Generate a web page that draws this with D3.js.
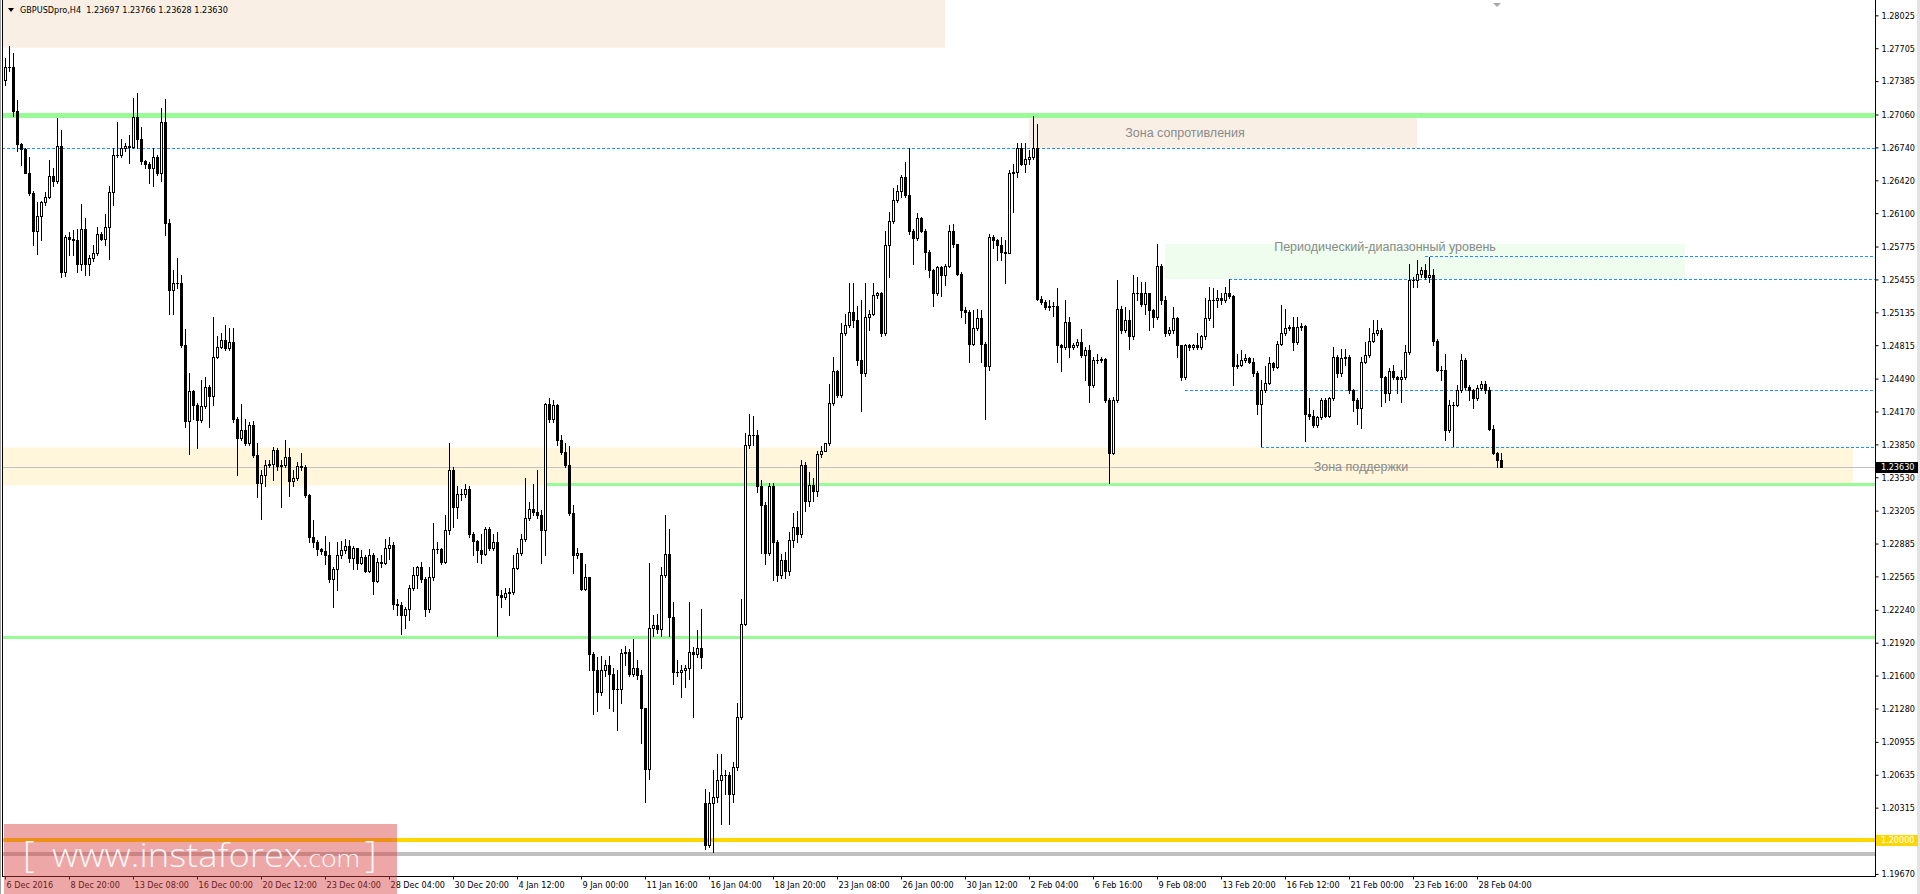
<!DOCTYPE html>
<html>
<head>
<meta charset="utf-8">
<script src="https://cdn.jsdelivr.net/npm/d3@7"></script>
<style>
body{margin:0;background:#fff;overflow:hidden}
svg{display:block}
text{font-family:"DejaVu Sans Condensed","Liberation Sans",sans-serif}
</style>
</head>
<body>
<svg id="chart" width="1920" height="894"></svg>
<script>
//candles, H4 bars from 6 Dec 2016 04:00
var opens = [
1.2740,1.2752,1.2752,1.2709,1.2677,1.2672,1.2649,1.2630,1.2593,1.2607,
1.2621,1.2626,1.2646,1.2641,1.2675,1.2553,1.2587,1.2585,1.2584,1.2561,
1.2595,1.2561,1.2566,1.2571,1.2590,1.2585,1.2597,1.2631,1.2667,1.2667,
1.2673,1.2675,1.2674,1.2704,1.2682,1.2661,1.2658,1.2654,1.2665,1.2649,
1.2699,1.2600,1.2535,1.2542,1.2542,1.2482,1.2408,1.2437,1.2423,1.2409,
1.2422,1.2441,1.2432,1.2470,1.2480,1.2487,1.2479,1.2485,1.2410,1.2391,
1.2399,1.2386,1.2404,1.2375,1.2347,1.2355,1.2365,1.2366,1.2380,1.2364,
1.2365,1.2373,1.2349,1.2352,1.2364,1.2363,1.2336,1.2295,1.2290,1.2283,
1.2281,1.2277,1.2254,1.2264,1.2277,1.2282,1.2286,1.2274,1.2284,1.2270,
1.2275,1.2262,1.2277,1.2252,1.2271,1.2270,1.2284,1.2287,1.2230,1.2229,
1.2219,1.2225,1.2245,1.2258,1.2266,1.2254,1.2225,1.2256,1.2283,1.2283,
1.2271,1.2302,1.2360,1.2324,1.2337,1.2337,1.2342,1.2298,1.2291,1.2282,
1.2278,1.2303,1.2284,1.2290,1.2238,1.2236,1.2240,1.2241,1.2265,1.2279,
1.2293,1.2313,1.2322,1.2319,1.2316,1.2302,1.2424,1.2410,1.2423,1.2389,
1.2378,1.2365,1.2318,1.2277,1.2279,1.2244,1.2256,1.2181,1.2165,1.2144,
1.2165,1.2170,1.2162,1.2147,1.2147,1.2182,1.2183,1.2162,1.2167,1.2161,
1.2128,1.2069,1.2206,1.2209,1.2205,1.2258,1.2278,1.2217,1.2163,1.2163,
1.2165,1.2167,1.2183,1.2181,1.2187,1.2036,1.1995,1.2036,1.2042,1.2058,
1.2063,1.2063,1.2045,1.2071,1.2120,1.2210,1.2384,1.2394,1.2394,1.2344,
1.2326,1.2279,1.2344,1.2290,1.2258,1.2272,1.2262,1.2292,1.2305,1.2298,
1.2365,1.2330,1.2345,1.2340,1.2376,1.2379,1.2386,1.2425,1.2456,1.2433,
1.2493,1.2501,1.2514,1.2506,1.2467,1.2454,1.2509,1.2512,1.2530,1.2532,
1.2493,1.2579,1.2602,1.2623,1.2632,1.2645,1.2628,1.2593,1.2586,1.2605,
1.2593,1.2572,1.2555,1.2532,1.2558,1.2550,1.2559,1.2593,1.2580,1.2551,
1.2516,1.2514,1.2483,1.2498,1.2508,1.2483,1.2461,1.2587,1.2584,1.2579,
1.2572,1.2571,1.2649,1.2650,1.2673,1.2658,1.2663,1.2665,1.2673,1.2526,
1.2524,1.2519,1.2520,1.2520,1.2482,1.2480,1.2504,1.2480,1.2482,1.2485,
1.2472,1.2477,1.2443,1.2467,1.2467,1.2468,1.2428,1.2377,1.2428,1.2517,
1.2496,1.2506,1.2490,1.2532,1.2532,1.2522,1.2532,1.2516,1.2509,1.2559,
1.2525,1.2493,1.2496,1.2508,1.2482,1.2451,1.2482,1.2480,1.2482,1.2480,
1.2490,1.2508,1.2525,1.2525,1.2527,1.2525,1.2532,1.2529,1.2461,1.2462,
1.2467,1.2469,1.2465,1.2454,1.2424,1.2438,1.2445,1.2464,1.2460,1.2483,
1.2493,1.2498,1.2499,1.2485,1.2499,1.2500,1.2415,1.2413,1.2404,1.2412,
1.2428,1.2413,1.2430,1.2470,1.2454,1.2469,1.2470,1.2438,1.2428,1.2420,
1.2465,1.2472,1.2486,1.2493,1.2496,1.2451,1.2435,1.2456,1.2451,1.2449,
1.2451,1.2475,1.2545,1.2545,1.2551,1.2555,1.2548,1.2550,1.2486,1.2457,
1.2457,1.2399,1.2423,1.2423,1.2438,1.2467,1.2441,1.2438,1.2430,1.2440,
1.2444,1.2438,1.2400,1.2377,1.23697];
var highs = [
1.2761,1.2773,1.2766,1.2720,1.2678,1.2673,1.2665,1.2632,1.2621,1.2622,
1.2631,1.2662,1.2654,1.2703,1.2691,1.2589,1.2592,1.2594,1.2595,1.2619,
1.2605,1.2569,1.2579,1.2597,1.2592,1.2609,1.2636,1.2673,1.2699,1.2682,
1.2678,1.2686,1.2722,1.2727,1.2694,1.2662,1.2660,1.2673,1.2667,1.2712,
1.2721,1.2604,1.2555,1.2566,1.2550,1.2497,1.2454,1.2438,1.2425,1.2448,
1.2451,1.2443,1.2509,1.2490,1.2493,1.2501,1.2498,1.2498,1.2412,1.2424,
1.2410,1.2407,1.2408,1.2386,1.2360,1.2370,1.2370,1.2382,1.2381,1.2370,
1.2389,1.2381,1.2360,1.2368,1.2377,1.2365,1.2337,1.2311,1.2292,1.2284,
1.2296,1.2290,1.2266,1.2290,1.2291,1.2293,1.2292,1.2286,1.2284,1.2282,
1.2277,1.2283,1.2279,1.2274,1.2277,1.2293,1.2295,1.2290,1.2235,1.2232,
1.2227,1.2248,1.2266,1.2267,1.2271,1.2256,1.2266,1.2308,1.2290,1.2284,
1.2316,1.2386,1.2363,1.2344,1.2342,1.2346,1.2344,1.2300,1.2292,1.2298,
1.2305,1.2305,1.2298,1.2300,1.2243,1.2245,1.2245,1.2277,1.2284,1.2298,
1.2352,1.2329,1.2346,1.2360,1.2321,1.2425,1.2430,1.2428,1.2424,1.2394,
1.2386,1.2383,1.2326,1.2284,1.2269,1.2269,1.2256,1.2183,1.2178,1.2179,
1.2175,1.2179,1.2167,1.2165,1.2186,1.2189,1.2186,1.2196,1.2175,1.2165,
1.2128,1.2270,1.2219,1.2220,1.2266,1.2316,1.2303,1.2232,1.2175,1.2170,
1.2170,1.2232,1.2188,1.2204,1.2225,1.2050,1.2047,1.2068,1.2084,1.2084,
1.2068,1.2066,1.2076,1.2133,1.2235,1.2396,1.2415,1.2413,1.2399,1.2350,
1.2329,1.2347,1.2347,1.2292,1.2278,1.2280,1.2300,1.2318,1.2320,1.2370,
1.2368,1.2358,1.2352,1.2379,1.2383,1.2386,1.2444,1.2470,1.2457,1.2503,
1.2512,1.2542,1.2542,1.2520,1.2525,1.2542,1.2516,1.2542,1.2533,1.2533,
1.2593,1.2611,1.2634,1.2637,1.2647,1.2660,1.2673,1.2595,1.2610,1.2606,
1.2595,1.2574,1.2556,1.2559,1.2559,1.2561,1.2598,1.2599,1.2580,1.2553,
1.2519,1.2516,1.2516,1.2517,1.2516,1.2485,1.2590,1.2589,1.2585,1.2587,
1.2584,1.2652,1.2658,1.2678,1.2678,1.2678,1.2671,1.2705,1.2697,1.2529,
1.2525,1.2525,1.2524,1.2537,1.2483,1.2525,1.2509,1.2484,1.2488,1.2497,
1.2480,1.2482,1.2470,1.2473,1.2470,1.2469,1.2430,1.2431,1.2545,1.2520,
1.2519,1.2516,1.2550,1.2548,1.2543,1.2543,1.2525,1.2517,1.2580,1.2561,
1.2529,1.2499,1.2519,1.2509,1.2482,1.2483,1.2483,1.2483,1.2493,1.2491,
1.2527,1.2538,1.2537,1.2535,1.2532,1.2538,1.2546,1.2530,1.2473,1.2477,
1.2473,1.2470,1.2469,1.2456,1.2448,1.2461,1.2470,1.2465,1.2486,1.2521,
1.2517,1.2501,1.2509,1.2509,1.2503,1.2501,1.2430,1.2418,1.2413,1.2430,
1.2430,1.2431,1.2480,1.2472,1.2478,1.2478,1.2472,1.2439,1.2430,1.2470,
1.2485,1.2498,1.2506,1.2506,1.2498,1.2452,1.2459,1.2462,1.2452,1.2457,
1.2482,1.2561,1.2548,1.2564,1.2558,1.2561,1.2567,1.2556,1.2488,1.2461,
1.2473,1.2428,1.2426,1.2443,1.2473,1.2469,1.2443,1.2439,1.2443,1.2447,
1.2447,1.2441,1.2404,1.2378,1.23766];
var lows = [
1.2735,1.2748,1.2705,1.2670,1.2657,1.2649,1.2628,1.2579,1.2570,1.2584,
1.2618,1.2625,1.2636,1.2639,1.2548,1.2549,1.2569,1.2569,1.2553,1.2555,
1.2550,1.2550,1.2563,1.2569,1.2584,1.2579,1.2565,1.2618,1.2665,1.2665,
1.2670,1.2659,1.2673,1.2673,1.2658,1.2654,1.2639,1.2636,1.2647,1.2641,
1.2589,1.2512,1.2512,1.2537,1.2480,1.2402,1.2376,1.2410,1.2381,1.2407,
1.2420,1.2402,1.2423,1.2469,1.2479,1.2477,1.2477,1.2407,1.2355,1.2389,
1.2384,1.2384,1.2373,1.2334,1.2312,1.2344,1.2363,1.2350,1.2360,1.2324,
1.2363,1.2335,1.2344,1.2350,1.2360,1.2334,1.2290,1.2285,1.2277,1.2278,
1.2269,1.2251,1.2227,1.2243,1.2274,1.2279,1.2271,1.2264,1.2264,1.2269,
1.2261,1.2261,1.2239,1.2251,1.2266,1.2269,1.2273,1.2225,1.2219,1.2200,
1.2206,1.2214,1.2243,1.2245,1.2251,1.2218,1.2222,1.2253,1.2279,1.2269,
1.2270,1.2298,1.2305,1.2313,1.2331,1.2334,1.2295,1.2277,1.2271,1.2270,
1.2277,1.2282,1.2282,1.2199,1.2227,1.2235,1.2219,1.2239,1.2264,1.2277,
1.2291,1.2311,1.2316,1.2313,1.2270,1.2277,1.2407,1.2407,1.2384,1.2376,
1.2363,1.2316,1.2260,1.2274,1.2243,1.2243,1.2165,1.2123,1.2126,1.2141,
1.2160,1.2128,1.2126,1.2107,1.2133,1.2170,1.2160,1.2160,1.2157,1.2094,
1.2037,1.2059,1.2199,1.2201,1.2199,1.2256,1.2199,1.2152,1.2160,1.2139,
1.2149,1.2157,1.2120,1.2178,1.2167,1.1991,1.1993,1.1988,1.2037,1.2016,
1.2045,1.2016,1.2037,1.2068,1.2118,1.2209,1.2381,1.2384,1.2339,1.2279,
1.2269,1.2277,1.2253,1.2252,1.2255,1.2255,1.2258,1.2285,1.2290,1.2295,
1.2320,1.2325,1.2330,1.2335,1.2373,1.2379,1.2384,1.2423,1.2431,1.2431,
1.2491,1.2499,1.2499,1.2462,1.2417,1.2452,1.2496,1.2511,1.2527,1.2490,
1.2491,1.2548,1.2600,1.2621,1.2626,1.2626,1.2590,1.2561,1.2584,1.2592,
1.2556,1.2548,1.2520,1.2530,1.2529,1.2540,1.2558,1.2577,1.2550,1.2509,
1.2503,1.2465,1.2482,1.2496,1.2465,1.2410,1.2457,1.2576,1.2564,1.2564,
1.2542,1.2571,1.2611,1.2645,1.2657,1.2650,1.2658,1.2663,1.2525,1.2522,
1.2517,1.2516,1.2510,1.2465,1.2456,1.2478,1.2470,1.2478,1.2480,1.2470,
1.2448,1.2426,1.2441,1.2464,1.2465,1.2426,1.2347,1.2376,1.2426,1.2493,
1.2494,1.2478,1.2488,1.2525,1.2520,1.2512,1.2496,1.2499,1.2507,1.2522,
1.2490,1.2491,1.2493,1.2470,1.2448,1.2449,1.2477,1.2478,1.2478,1.2478,
1.2488,1.2506,1.2499,1.2519,1.2522,1.2524,1.2527,1.2443,1.2459,1.2461,
1.2465,1.2464,1.2452,1.2415,1.2383,1.2436,1.2444,1.2457,1.2459,1.2482,
1.2491,1.2496,1.2477,1.2483,1.2496,1.2388,1.2410,1.2402,1.2402,1.2410,
1.2412,1.2412,1.2428,1.2451,1.2452,1.2462,1.2435,1.2417,1.2405,1.2401,
1.2464,1.2470,1.2485,1.2491,1.2422,1.2426,1.2428,1.2449,1.2435,1.2426,
1.2449,1.2473,1.2538,1.2538,1.2548,1.2546,1.2543,1.2482,1.2456,1.2448,
1.2389,1.2397,1.2383,1.2422,1.2436,1.2439,1.2428,1.2420,1.2428,1.2438,
1.2435,1.2399,1.2376,1.2363,1.23628];
var closes = [
1.2752,1.2752,1.2709,1.2677,1.2672,1.2649,1.2630,1.2593,1.2607,1.2621,
1.2626,1.2646,1.2641,1.2675,1.2553,1.2587,1.2585,1.2584,1.2561,1.2595,
1.2561,1.2566,1.2571,1.2590,1.2585,1.2597,1.2631,1.2667,1.2667,1.2673,
1.2675,1.2674,1.2704,1.2682,1.2661,1.2658,1.2654,1.2665,1.2649,1.2699,
1.2600,1.2535,1.2542,1.2542,1.2482,1.2408,1.2437,1.2423,1.2409,1.2422,
1.2441,1.2432,1.2470,1.2480,1.2487,1.2479,1.2485,1.2410,1.2391,1.2399,
1.2386,1.2404,1.2375,1.2347,1.2355,1.2365,1.2366,1.2380,1.2364,1.2365,
1.2373,1.2349,1.2352,1.2364,1.2363,1.2336,1.2295,1.2290,1.2283,1.2281,
1.2277,1.2254,1.2264,1.2277,1.2282,1.2286,1.2274,1.2284,1.2270,1.2275,
1.2262,1.2277,1.2252,1.2271,1.2270,1.2284,1.2287,1.2230,1.2229,1.2219,
1.2225,1.2245,1.2258,1.2266,1.2254,1.2225,1.2256,1.2283,1.2283,1.2271,
1.2302,1.2360,1.2324,1.2337,1.2337,1.2342,1.2298,1.2291,1.2282,1.2278,
1.2303,1.2284,1.2290,1.2238,1.2236,1.2240,1.2241,1.2265,1.2279,1.2293,
1.2313,1.2322,1.2319,1.2316,1.2302,1.2424,1.2410,1.2423,1.2389,1.2378,
1.2365,1.2318,1.2277,1.2279,1.2244,1.2256,1.2181,1.2165,1.2144,1.2165,
1.2170,1.2162,1.2147,1.2147,1.2182,1.2183,1.2162,1.2167,1.2161,1.2128,
1.2069,1.2206,1.2209,1.2205,1.2258,1.2278,1.2217,1.2163,1.2163,1.2165,
1.2167,1.2183,1.2181,1.2187,1.2178,1.1995,1.2036,1.2042,1.2058,1.2063,
1.2063,1.2045,1.2071,1.2120,1.2210,1.2384,1.2394,1.2394,1.2344,1.2326,
1.2279,1.2344,1.2290,1.2258,1.2272,1.2262,1.2292,1.2305,1.2298,1.2365,
1.2330,1.2345,1.2340,1.2376,1.2379,1.2386,1.2425,1.2456,1.2433,1.2493,
1.2501,1.2514,1.2506,1.2467,1.2454,1.2509,1.2512,1.2530,1.2532,1.2493,
1.2579,1.2602,1.2623,1.2632,1.2645,1.2628,1.2593,1.2586,1.2605,1.2593,
1.2572,1.2555,1.2532,1.2558,1.2550,1.2559,1.2593,1.2580,1.2551,1.2516,
1.2514,1.2483,1.2498,1.2508,1.2483,1.2461,1.2587,1.2584,1.2579,1.2572,
1.2571,1.2649,1.2650,1.2673,1.2658,1.2663,1.2665,1.2673,1.2526,1.2524,
1.2519,1.2520,1.2520,1.2482,1.2480,1.2504,1.2480,1.2482,1.2485,1.2472,
1.2477,1.2443,1.2467,1.2467,1.2468,1.2428,1.2377,1.2428,1.2517,1.2496,
1.2506,1.2490,1.2532,1.2532,1.2522,1.2532,1.2516,1.2509,1.2559,1.2525,
1.2493,1.2496,1.2508,1.2482,1.2451,1.2482,1.2480,1.2482,1.2480,1.2490,
1.2508,1.2525,1.2525,1.2527,1.2525,1.2532,1.2529,1.2461,1.2462,1.2467,
1.2469,1.2465,1.2454,1.2424,1.2438,1.2445,1.2464,1.2460,1.2483,1.2493,
1.2498,1.2499,1.2485,1.2499,1.2500,1.2415,1.2413,1.2404,1.2412,1.2428,
1.2413,1.2430,1.2470,1.2454,1.2469,1.2470,1.2438,1.2428,1.2420,1.2465,
1.2472,1.2486,1.2493,1.2496,1.2451,1.2435,1.2456,1.2451,1.2449,1.2451,
1.2475,1.2545,1.2545,1.2551,1.2555,1.2548,1.2550,1.2486,1.2457,1.2457,
1.2399,1.2423,1.2423,1.2438,1.2467,1.2441,1.2438,1.2430,1.2440,1.2444,
1.2438,1.2400,1.2377,1.23697,1.23630];

//time axis labels and the bar they sit on
var xLabels = ['6 Dec 2016','8 Dec 20:00','13 Dec 08:00','16 Dec 00:00','20 Dec 12:00','23 Dec 04:00',
  '28 Dec 04:00','30 Dec 20:00','4 Jan 12:00','9 Jan 00:00','11 Jan 16:00','16 Jan 04:00',
  '18 Jan 20:00','23 Jan 08:00','26 Jan 00:00','30 Jan 12:00','2 Feb 04:00','6 Feb 16:00',
  '9 Feb 08:00','13 Feb 20:00','16 Feb 12:00','21 Feb 00:00','23 Feb 16:00','28 Feb 04:00'];
var xLabelBars = [0,16,32,48,64,80,96,112,128,144,160,176,192,208,224,240,256,272,288,304,320,336,352,368];

//price axis ticks
var yTicks = [1.28025,1.27705,1.27385,1.27060,1.26740,1.26420,1.26100,1.25775,1.25455,1.25135,
  1.24815,1.24490,1.24170,1.23850,1.23530,1.23205,1.22885,1.22565,1.22240,1.21920,
  1.21600,1.21280,1.20955,1.20635,1.20315,1.19670];

//horizontal levels
var greenLevels = [1.2706, 1.2346, 1.2198];
var greenFromBar = [-2, 135, -2];
var dashLevels = [1.2673, 1.2568, 1.2546, 1.2438, 1.2382];
var dashFromBar = [-2, 355, 306, 295, 314];
var roundLevel = 1.2000;
var lowGreyLevel = 1.1986;
var bidPrice = 1.23630;

//zones: [first bar, last bar], [top price, bottom price]
var zoneNames = ['', 'Зона сопротивления', 'Периодический-диапазонный уровень', 'Зона поддержки'];
var zoneBars = [[-2, 235], [256, 353], [290, 420], [-2, 462]];
var zonePrices = [[1.2830, 1.2771], [1.2704, 1.2673], [1.2580, 1.2546], [1.2382, 1.2345]];
var zoneTextAt = [null, [295, 1.2688], [345, 1.2577], [339, 1.2363]];

var headerText = 'GBPUSDpro,H4  1.23697 1.23766 1.23628 1.23630';

document.addEventListener('DOMContentLoaded', function() {
	var svg = d3.select('#chart');
	var plotRight = 1875, plotBottom = 876;

	var x = d3.scaleLinear().domain([0, 1]).range([5, 9]);
	var y = d3.scaleLinear().domain([1.2706, 1.2000]).range([114.5, 840]);

	svg.append('defs').append('clipPath').attr('id', 'plotClip')
		.append('rect').attr('x', 3).attr('y', 0).attr('width', plotRight - 3).attr('height', plotBottom);

	var plot = svg.append('g').attr('clip-path', 'url(#plotClip)');

	//zones
	var zoneColors = ['#f9efe5', '#f9efe5', '#effdef', '#fff6dc'];
	zoneBars.forEach(function(b, i) {
		plot.append('rect')
			.attr('x', x(b[0]))
			.attr('y', y(zonePrices[i][0]))
			.attr('width', x(b[1]) - x(b[0]))
			.attr('height', y(zonePrices[i][1]) - y(zonePrices[i][0]))
			.style('fill', zoneColors[i]);
	});

	//horizontal lines
	function hline(price, fromBar, color, width, dash) {
		var yy = Math.round(y(price)) + (width % 2 ? 0.5 : 0);
		var l = plot.append('line')
			.attr('x1', x(fromBar)).attr('x2', plotRight)
			.attr('y1', yy).attr('y2', yy)
			.style('stroke', color).style('stroke-width', width)
			.style('shape-rendering', 'crispEdges');
		if (dash) l.style('stroke-dasharray', dash);
	}
	hline(greenLevels[0], greenFromBar[0], '#98fb98', 5);
	hline(greenLevels[1], greenFromBar[1], '#98fb98', 3);
	hline(greenLevels[2], greenFromBar[2], '#98fb98', 3);
	hline(roundLevel, -2, '#ffd700', 4);
	hline(lowGreyLevel, -2, '#c0c0c0', 4);
	hline(bidPrice, -2, '#c0c0c0', 1);
	dashLevels.forEach(function(p, i) {
		hline(p, dashFromBar[i], '#1e90ff', 1, '3,2');
	});

	//zone captions
	zoneTextAt.forEach(function(t, i) {
		if (!t) return;
		plot.append('text')
			.attr('x', x(t[0])).attr('y', y(t[1]))
			.attr('dy', '0.35em')
			.style('text-anchor', 'middle')
			.style('font-family', '"Liberation Sans", Arial, sans-serif')
			.style('font-size', '12.5px')
			.style('fill', '#8a8a8a')
			.text(zoneNames[i]);
	});

	//candles
	var candles = plot.append('g').style('shape-rendering', 'crispEdges');
	closes.forEach(function(c, i) {
		var o = opens[i];
		var hi = Math.max(highs[i], o, c), lo = Math.min(lows[i], o, c);
		var cx = Math.round(x(i));
		candles.append('line')
			.attr('x1', cx + 0.5).attr('x2', cx + 0.5)
			.attr('y1', Math.round(y(hi))).attr('y2', Math.round(y(lo)) + 1)
			.style('stroke', '#000').style('stroke-width', 1);
		var top = Math.round(y(Math.max(o, c)));
		var bot = Math.round(y(Math.min(o, c)));
		var h = Math.max(1, bot - top + 1);
		candles.append('rect')
			.attr('x', cx - 1).attr('y', top).attr('width', 3).attr('height', h)
			.style('fill', '#000');
		if (c > o && h > 2) {
			candles.append('rect')
				.attr('x', cx).attr('y', top + 1).attr('width', 1).attr('height', h - 2)
				.style('fill', '#fff');
		}
	});

	//frame
	svg.append('path')
		.attr('d', 'M2.5,0V' + (plotBottom + 0.5) + 'H' + (plotRight + 0.5) + 'V0')
		.style('fill', 'none').style('stroke', '#000').style('shape-rendering', 'crispEdges');
	svg.append('line').attr('x1', 0.5).attr('x2', 0.5).attr('y1', 0).attr('y2', 894)
		.style('stroke', '#a0a0a0');
	svg.append('rect').attr('x', 1917).attr('y', 0).attr('width', 3).attr('height', 894)
		.style('fill', '#e3e3e3');

	//price axis
	var yAxis = svg.append('g')
		.attr('transform', 'translate(' + (plotRight + 0.5) + ',0)')
		.call(d3.axisRight(y).tickValues(yTicks).tickFormat(d3.format('.5f')).tickSize(3).tickPadding(3));
	yAxis.select('.domain').remove();
	yAxis.selectAll('text').style('font-size', '9px').style('fill', '#000');
	yAxis.selectAll('line').style('stroke', '#000');

	//current price and round level labels
	function priceTag(p, bg) {
		var yy = Math.round(y(p));
		svg.append('rect').attr('x', plotRight + 1).attr('y', yy - 5).attr('width', 42).attr('height', 11)
			.style('fill', bg);
		svg.append('text').attr('x', plotRight + 6).attr('y', yy).attr('dy', '0.35em')
			.style('font-size', '9px').style('fill', '#fff').text(d3.format('.5f')(p));
	}
	priceTag(roundLevel, '#ffd700');
	priceTag(bidPrice, '#000');

	//time axis
	var xAxis = svg.append('g')
		.attr('transform', 'translate(0,' + (plotBottom + 0.5) + ')')
		.call(d3.axisBottom(x).tickValues(xLabelBars).tickFormat(function(d, i) { return xLabels[i]; }).tickSize(3).tickPadding(2));
	xAxis.select('.domain').remove();
	xAxis.selectAll('text').style('text-anchor', 'start').attr('dx', 1).style('font-size', '9px').style('fill', '#000');
	xAxis.selectAll('line').style('stroke', '#000');

	//header
	svg.append('path').attr('d', 'M8,8H14L11,12Z').style('fill', '#000');
	svg.append('text').attr('x', 20).attr('y', 13)
		.style('font-size', '9px').style('fill', '#000').style('white-space', 'pre')
		.attr('xml:space', 'preserve')
		.text(headerText);

	//chart shift marker
	svg.append('path').attr('d', 'M1493,3H1501L1497,7Z').style('fill', '#a8a8a8');

	//watermark
	var wm = svg.append('g');
	wm.append('rect').attr('x', 4).attr('y', 824).attr('width', 393).attr('height', 70)
		.style('fill', 'rgb(214,60,60)').style('opacity', 0.45);
	wm.append('text').attr('x', 23).attr('y', 867)
		.style('font-family', '"Open Sans", sans-serif').style('font-weight', 300)
		.style('font-size', '36px').style('fill', '#fff').style('opacity', 0.9).text('[');
	wm.append('text').attr('x', 52).attr('y', 867)
		.attr('textLength', 250).attr('lengthAdjust', 'spacingAndGlyphs')
		.style('font-family', '"Open Sans", sans-serif').style('font-weight', 300)
		.style('font-size', '33px').style('fill', '#fff').style('opacity', 0.9).text('www.instaforex');
	wm.append('text').attr('x', 302).attr('y', 867)
		.attr('textLength', 58).attr('lengthAdjust', 'spacingAndGlyphs')
		.style('font-family', '"Open Sans", sans-serif').style('font-weight', 300)
		.style('font-size', '23px').style('fill', '#fff').style('opacity', 0.9).text('.com');
	wm.append('text').attr('x', 365).attr('y', 867)
		.style('font-family', '"Open Sans", sans-serif').style('font-weight', 300)
		.style('font-size', '36px').style('fill', '#fff').style('opacity', 0.9).text(']');
});
</script>
</body>
</html>
